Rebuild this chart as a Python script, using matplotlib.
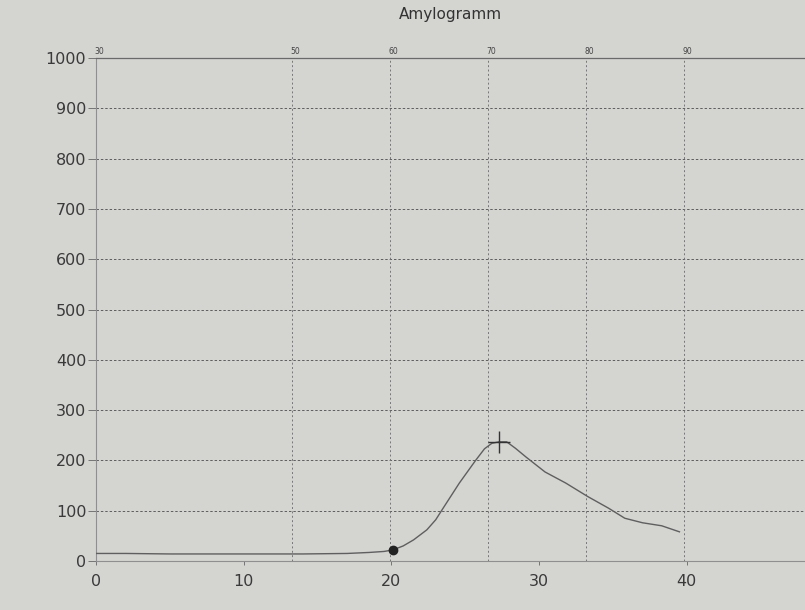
import matplotlib
matplotlib.use("Agg")
import matplotlib.pyplot as plt

# Data
time_min = [0, 2, 5, 8, 11, 14, 17, 18.5, 19.5, 20.1, 20.8, 21.5, 22.4, 23.0, 23.5, 24.6, 25.7,
            26.3, 26.8, 27.3, 27.8, 28.4, 29.1, 30.4, 31.8, 33.3, 34.7, 35.8, 37.0, 38.3, 39.5]
viscosity = [15, 15, 14, 14, 14, 14, 15, 17, 19, 22, 30, 42, 62, 82, 105, 155, 200,
             223, 234, 237, 237, 224, 207, 177, 155, 128, 105, 85, 76, 70, 58]
marker_time, marker_value = 20.1, 22
peak_time, peak_value = 27.3, 237

temp_labels = ["30", "50", "60", "70", "80", "90"]
temp_values = [30, 50, 60, 70, 80, 90]
time_per_degree = 0.663

bg = "#d4d4d1"
fig = plt.figure(figsize=(8.05, 6.10), dpi=100, facecolor=bg)
ax = fig.add_axes([96/805, 1-561/610, (805-96)/805, (561-58)/610], facecolor=bg)

ax.set_xlim(0, 48)
ax.set_ylim(0, 1000)

ax.set_yticks(range(0, 1001, 100))
ax.set_xticks([0, 10, 20, 30, 40])
ax.tick_params(axis="both", labelsize=11.5, colors="#555555", labelcolor="#3a3a3a")
ax.tick_params(axis="y", length=6, width=0.6, color="#666666", pad=1)
ax.tick_params(axis="x", length=3, width=0.6, color="#666666", pad=6)

# horizontal dashed grid
for v in range(100, 1000, 100):
    ax.axhline(v, color="#5e5e5e", lw=0.7, ls=(0, (2.5, 2)), zorder=1)

# vertical dashed grid at temperature positions
temp_pos = [(t - 30) * time_per_degree for t in temp_values]
for p in temp_pos[1:]:
    ax.axvline(p, color="#777777", lw=0.7, ls=(0, (2, 2.5)), zorder=1)

for s in ["left", "bottom"]:
    ax.spines[s].set_color("#8f8f8f")
    ax.spines[s].set_linewidth(0.8)
ax.spines["right"].set_visible(False)
ax.spines["top"].set_color("#6a6a6a")
ax.spines["top"].set_linewidth(0.9)

ax.plot(time_min, viscosity, color="#5f5f5f", lw=1.0, zorder=3)
ax.plot([marker_time], [marker_value], "o", color="#222222", ms=6, zorder=4)
ax.plot([peak_time], [peak_value], marker="+", color="#333333", ms=16, mew=1.0, zorder=4)

# top temperature labels
for lab, p in zip(temp_labels, temp_pos):
    ax.text(p + 0.25, 1004, lab, fontsize=5.5, color="#444444", ha="center", va="bottom")

fig.text(450/805, 1-15/610, "Amylogramm", ha="center", va="center", fontsize=11, color="#333333")

fig.savefig("out.png", dpi=100, facecolor=bg)
